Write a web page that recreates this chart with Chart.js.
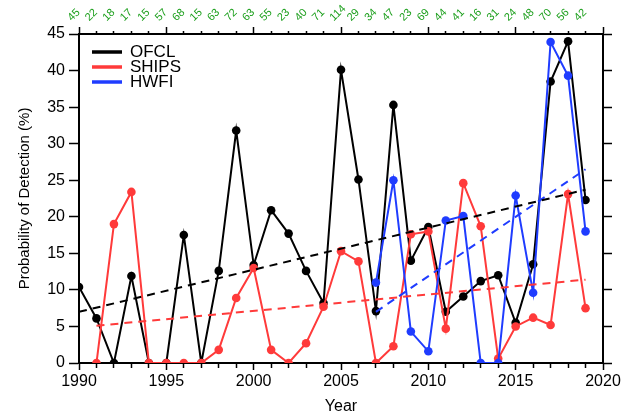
<!DOCTYPE html>
<html><head><meta charset="utf-8">
<script src="https://cdn.jsdelivr.net/npm/chart.js@4.4.1/dist/chart.umd.min.js"></script>
<style>html,body{margin:0;padding:0;background:#fff}#wrap{width:636px;height:419px}</style>
</head><body><div id="wrap"><canvas id="c" width="636" height="419"></canvas></div>
<script>
const years = [1990,1991,1992,1993,1994,1995,1996,1997,1998,1999,2000,2001,2002,2003,2004,2005,2006,2007,2008,2009,2010,2011,2012,2013,2014,2015,2016,2017,2018,2019];
const counts = [45,22,18,17,15,57,68,15,63,72,63,55,23,40,71,114,29,34,47,23,69,44,41,16,31,24,48,70,56,42];
const ofcl = [10.4,6.1,0,11.9,0,0,17.5,0,12.6,31.8,13.4,20.9,17.7,12.6,8.2,40.1,25.1,7.1,35.3,14.0,18.6,7.0,9.1,11.2,12.0,5.5,13.5,38.5,44.0,22.3];
const ships = [null,0,19.0,23.4,0,0,0,0,1.8,8.9,13.0,1.8,0,2.7,7.7,15.3,13.9,0,2.3,17.6,18.0,4.7,24.6,18.7,0.6,5.0,6.2,5.2,23.1,7.5];
const hwfiYears = [2007,2008,2009,2010,2011,2012,2013,2014,2015,2016,2017,2018,2019];
const hwfi = [11.0,25.0,4.3,1.6,19.5,20.1,0,0,22.9,9.6,43.9,39.3,18.0];
const trendOfclYears = [1990,2019], trendOfcl = [7.0,23.7];
const trendShipsYears = [1991,2019], trendShips = [5.1,11.4];
const trendHwfiYears = [2007,2019], trendHwfi = [7.0,26.5];
const yTicks = [0,5,10,15,20,25,30,35,40,45];
const legendLabels = ['OFCL','SHIPS','HWFI'];

const BLACK='#000000', RED='#ff3a3a', BLUE='#1f3cff', GREEN='#1a9e1a';
const FONT="'Liberation Sans', Arial, Helvetica, sans-serif";
function pts(xs, ys){ return xs.map((x,i)=>({x:x,y:ys[i]})).filter(p=>p.y!==null); }
function series(label, xs, ys, color){
  return {label, data:pts(xs,ys), borderColor:color, backgroundColor:color, borderWidth:2,
    pointRadius:4.3, pointHoverRadius:4.3, pointBackgroundColor:color, pointBorderColor:color, pointBorderWidth:0, tension:0};
}
function trend(xs, ys, color){
  return {label:'_trend', data:pts(xs,ys), borderColor:color, backgroundColor:color, borderWidth:2,
    borderDash:[8,6], pointRadius:0, tension:0};
}
const ds = [
  trend(trendOfclYears, trendOfcl, BLACK),
  trend(trendShipsYears, trendShips, RED),
  trend(trendHwfiYears, trendHwfi, BLUE),
  series('OFCL', years, ofcl, BLACK),
  series('SHIPS', years, ships, RED),
  series('HWFI', hwfiYears, hwfi, BLUE)
];
ds[3].order=3; ds[4].order=2; ds[5].order=1;

const insideLegend = {
  id:'insideLegend',
  afterDatasetsDraw(chart){
    const ctx = chart.ctx, a = chart.chartArea;
    const items = chart.data.datasets.filter(d=>legendLabels.includes(d.label));
    ctx.save();
    ctx.font = '17px ' + FONT;
    ctx.textBaseline = 'middle';
    ctx.textAlign = 'left';
    items.forEach((d,i)=>{
      const y = a.top + 18 + i*15;
      ctx.strokeStyle = d.borderColor; ctx.lineWidth = 3.5;
      ctx.beginPath(); ctx.moveTo(a.left+13, y); ctx.lineTo(a.left+43, y); ctx.stroke();
      ctx.fillStyle = BLACK;
      ctx.fillText(d.label, a.left+51, y+0.5);
    });
    ctx.restore();
  }
};
const isMajor = c => c.tick && c.tick.value % 5 === 0;

new Chart(document.getElementById('c'), {
  type:'line',
  data:{datasets:ds},
  plugins:[insideLegend],
  options:{
    responsive:false, animation:false, devicePixelRatio:1,
    layout:{padding:0},
    plugins:{ tooltip:{enabled:false}, legend:{display:false} },
    scales:{
      x:{type:'linear', position:'bottom', min:1990, max:2020,
        afterFit:s=>{s.height=56;},
        afterBuildTicks:s=>{s.ticks=[]; for(let v=1990; v<=2020; v++) s.ticks.push({value:v});},
        ticks:{autoSkip:false, maxRotation:0, color:BLACK, font:{family:FONT,size:16}, padding:2,
          callback:v=>(v%5===0?String(v):'')},
        grid:{drawOnChartArea:false, drawTicks:true, tickLength:7, tickWidth:1.5, tickColor:BLACK,
          tickBorderDash:c=>isMajor(c)?[]:[4,100]},
        border:{display:true, color:BLACK, width:2},
        title:{display:true, text:'Year', color:BLACK, font:{family:FONT,size:16}, padding:{top:0,bottom:3}}
      },
      x2:{type:'linear', position:'top', min:1990, max:2020,
        afterFit:s=>{s.height=34;},
        afterBuildTicks:s=>{s.ticks=[]; for(let v=1990; v<=2020; v++) s.ticks.push({value:v});},
        ticks:{autoSkip:false, minRotation:45, maxRotation:45, color:GREEN, font:{family:FONT,size:11}, padding:3,
          callback:v=>{const i=years.indexOf(v); return i>=0?String(counts[i]):'';}},
        grid:{drawOnChartArea:false, drawTicks:true, tickLength:7, tickWidth:1.5, tickColor:BLACK,
          tickBorderDash:c=>isMajor(c)?[]:[0,4,4,100]},
        border:{display:true, color:BLACK, width:2}
      },
      y:{type:'linear', position:'left', min:0, max:45,
        afterFit:s=>{s.width=79;},
        afterBuildTicks:s=>{s.ticks=yTicks.map(v=>({value:v}));},
        ticks:{color:BLACK, font:{family:FONT,size:16}, padding:4},
        grid:{drawOnChartArea:false, drawTicks:true, tickLength:10, tickWidth:1.5, tickColor:BLACK},
        border:{display:true, color:BLACK, width:2},
        title:{display:true, text:'Probability of Detection (%)', color:BLACK, font:{family:FONT,size:15}, padding:{top:16,bottom:0}}
      },
      y2:{type:'linear', position:'right', min:0, max:45,
        afterFit:s=>{s.width=33;},
        afterBuildTicks:s=>{s.ticks=yTicks.map(v=>({value:v}));},
        ticks:{display:false},
        grid:{drawOnChartArea:false, drawTicks:true, tickLength:9, tickWidth:1.5, tickColor:BLACK},
        border:{display:true, color:BLACK, width:2}
      }
    }
  }
});
</script></body></html>
